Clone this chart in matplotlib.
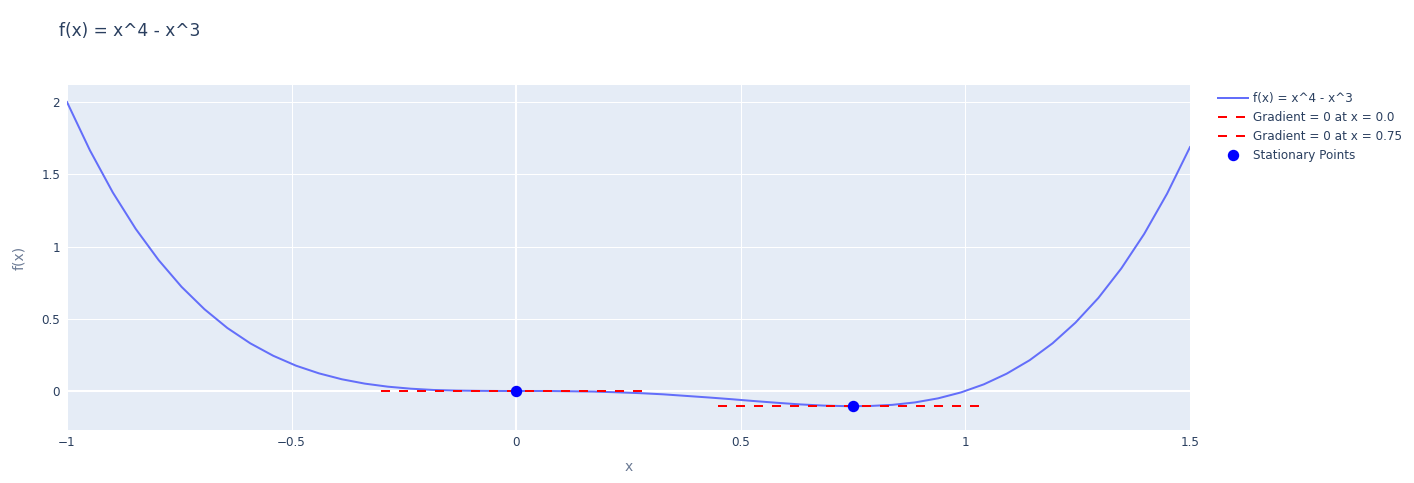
import matplotlib
matplotlib.use("Agg")
import matplotlib.pyplot as plt

# Curve samples
x_vals = [-1.000, -0.949, -0.898, -0.847, -0.796, -0.745, -0.694, -0.643, -0.592, -0.541,
          -0.490, -0.439, -0.388, -0.337, -0.286, -0.235, -0.184, -0.133, -0.082, -0.031,
          0.020, 0.071, 0.122, 0.173, 0.224, 0.276, 0.327, 0.378, 0.429, 0.480,
          0.531, 0.582, 0.633, 0.684, 0.735, 0.786, 0.837, 0.888, 0.939, 0.990,
          1.041, 1.092, 1.143, 1.194, 1.245, 1.296, 1.347, 1.398, 1.449, 1.500]
y_vals = [2.000, 1.666, 1.374, 1.122, 0.906, 0.721, 0.566, 0.436, 0.330, 0.244,
          0.175, 0.122, 0.081, 0.051, 0.030, 0.016, 0.007, 0.003, 0.001, 0.000,
          -0.000, -0.000, -0.002, -0.004, -0.009, -0.015, -0.023, -0.034, -0.045, -0.057,
          -0.070, -0.082, -0.093, -0.101, -0.105, -0.104, -0.096, -0.079, -0.051, -0.010,
          0.046, 0.120, 0.213, 0.330, 0.473, 0.644, 0.848, 1.087, 1.366, 1.688]

# Stationary points
stat_x = [0.0, 0.75]
stat_y = [0.0, -0.105]
tangent_half_width = 0.3
tangent_labels = ["Gradient = 0 at x = 0.0", "Gradient = 0 at x = 0.75"]

x_ticks = [-1, -0.5, 0, 0.5, 1, 1.5]
x_ticklabels = ["\u22121", "\u22120.5", "0", "0.5", "1", "1.5"]
y_ticks = [0, 0.5, 1, 1.5, 2]
y_ticklabels = ["0", "0.5", "1", "1.5", "2"]

FONT = "DejaVu Sans"
TXT = "#2a3f5f"
plt.rcParams["font.family"] = [FONT]

W, H = 1414, 483
fig = plt.figure(figsize=(W / 100, H / 100), dpi=100)
ax = fig.add_axes([67 / W, 1 - 430 / H, (1190 - 67) / W, (430 - 85) / H])
ax.set_facecolor("#e5ecf6")
for s in ax.spines.values():
    s.set_visible(False)

ax.set_xlim(-1, 1.5)
ax.set_ylim(-0.27, 2.118)

ax.set_xticks(x_ticks)
ax.set_xticklabels(x_ticklabels)
ax.set_yticks(y_ticks)
ax.set_yticklabels(y_ticklabels)
ax.tick_params(length=0, colors=TXT, labelsize=8.64)
ax.tick_params(axis="x", pad=4)
ax.tick_params(axis="y", pad=5)
ax.grid(True, color="white", linewidth=0.75)
ax.set_axisbelow(True)
ax.axhline(0, color="white", linewidth=1.5, zorder=0.5)
ax.axvline(0, color="white", linewidth=1.5, zorder=0.5)

ax.plot(x_vals, y_vals, color="#636efa", linewidth=1.44, label="f(x) = x^4 - x^3", zorder=2)
for sx, sy, lab in zip(stat_x, stat_y, tangent_labels):
    ax.plot([sx - tangent_half_width, sx + tangent_half_width], [sy, sy], color="red",
            linewidth=1.44, dashes=(4.5, 4.5), label=lab, zorder=3)
ax.plot(stat_x, stat_y, linestyle="none", marker="o", markersize=7.2, color="blue",
        label="Stationary Points", zorder=4)

ax.set_xlabel("x", fontsize=10, color="#6b7a94", labelpad=8)
ax.set_ylabel("f(x)", fontsize=10, color="#6b7a94", labelpad=11)

fig.text(59 / W, 1 - 31 / H, "f(x) = x^4 - x^3", fontsize=12.24, color=TXT, va="center", ha="left")

leg = ax.legend(loc="upper left", bbox_to_anchor=(1218 / W, 1 - 92 / H), bbox_transform=fig.transFigure,
                frameon=False, borderpad=0, borderaxespad=0, handlelength=2.5, handletextpad=0.42,
                labelspacing=0.5, fontsize=8.64)
for t in leg.get_texts():
    t.set_color(TXT)

fig.savefig("out.png", dpi=100)
